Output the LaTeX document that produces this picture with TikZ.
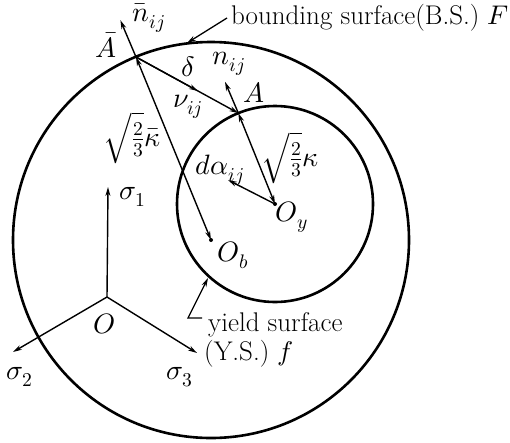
\documentclass[tikz,border=0pt]{standalone}
\usepackage{unicode-math}
\usetikzlibrary{arrows.meta}
\begin{document}
\begin{tikzpicture}[x=1pt,y=-1pt,
  lbl/.style={font=\fontsize{27}{31}\selectfont, inner sep=0pt},
  mlbl/.style={font=\fontsize{28}{32}\selectfont, inner sep=0pt},
  surf/.style={line width=2.6pt},
  vec/.style={line width=1.4pt, -{Stealth[length=9pt,width=5pt]}},
  dvec/.style={line width=1.4pt, {Stealth[length=9pt,width=5pt]}-{Stealth[length=9pt,width=5pt]}},
  lead/.style={line width=1.3pt}]
\useasboundingbox (0,0) rectangle (510,442);
% points
\coordinate (Ob) at (211,240);
\coordinate (Oy) at (275,204);
\coordinate (Abar) at (136,57);
\coordinate (A) at (238.3,113.1);
\coordinate (nbt) at (120.4,20.2);
\coordinate (nt) at (225,81.8);
\coordinate (nut) at (198,91);
\coordinate (dat) at (228,180);
\coordinate (O) at (107,297);
\coordinate (s1) at (108,187);
\coordinate (s2) at (13,352);
\coordinate (s3) at (197,353);
\coordinate (bsp) at (187,43);
\coordinate (bse) at (227,18);
\coordinate (ysp) at (208,278);
\coordinate (ysk) at (188,318);
\coordinate (yse) at (202,318);
% surfaces
\draw[surf] (Ob) circle[radius=198];
\draw[surf] (Oy) circle[radius=98];
% vectors
\draw[dvec] (Ob) -- (Abar);
\draw[vec] (Abar) -- (nbt);
\draw[dvec] (Oy) -- (A);
\draw[vec] (A) -- (nt);
\draw[vec] (Abar) -- (A);
\draw[vec] (Abar) -- (nut);
\draw[vec] (Oy) -- (dat);
\fill (Ob) circle[radius=2];
\fill (Oy) circle[radius=2];
% axes
\draw[vec] (O) -- (s1);
\draw[vec] (O) -- (s2);
\draw[vec] (O) -- (s3);
% leaders
\draw[lead, -{Stealth[length=9pt,width=5pt]}] (bse) -- (bsp);
\draw[lead, -{Stealth[length=9pt,width=5pt]}] (yse) -- (ysk) -- (ysp);
% labels
\node[mlbl] (lnb) at (149,18) {$\bar{n}_{ij}$};
\node[mlbl] (lAb) at (106,45) {$\bar{A}$};
\node[mlbl] (ld) at (188,67) {$\delta$};
\node[mlbl] (ln) at (229,64) {$n_{ij}$};
\node[mlbl] (lA) at (254,92) {$A$};
\node[mlbl] (lnu) at (188,107) {$\nu_{ij}$};
\node[mlbl] (lkb) at (132,138) {$\sqrt{\tfrac{2}{3}}\bar{\kappa}$};
\node[mlbl] (lk) at (290,158) {$\sqrt{\tfrac{2}{3}}\kappa$};
\node[mlbl] (lda) at (220,170) {$d\alpha_{ij}$};
\node[mlbl] (lOy) at (292,217) {$O_y$};
\node[mlbl] (lOb) at (233,255) {$O_b$};
\node[mlbl] (ls1) at (133,197) {$\sigma_1$};
\node[mlbl] (lO) at (104,324) {$O$};
\node[mlbl] (ls2) at (20,377) {$\sigma_2$};
\node[mlbl] (ls3) at (180,377) {$\sigma_3$};
\node[lbl, anchor=west] (lbs) at (231,18) {bounding surface(B.S.) $F$};
\node[lbl, anchor=west] (lys1) at (208,325) {yield surface};
\node[lbl, anchor=west] (lys2) at (204,354) {(Y.S.) $f$};
\end{tikzpicture}
\end{document}
